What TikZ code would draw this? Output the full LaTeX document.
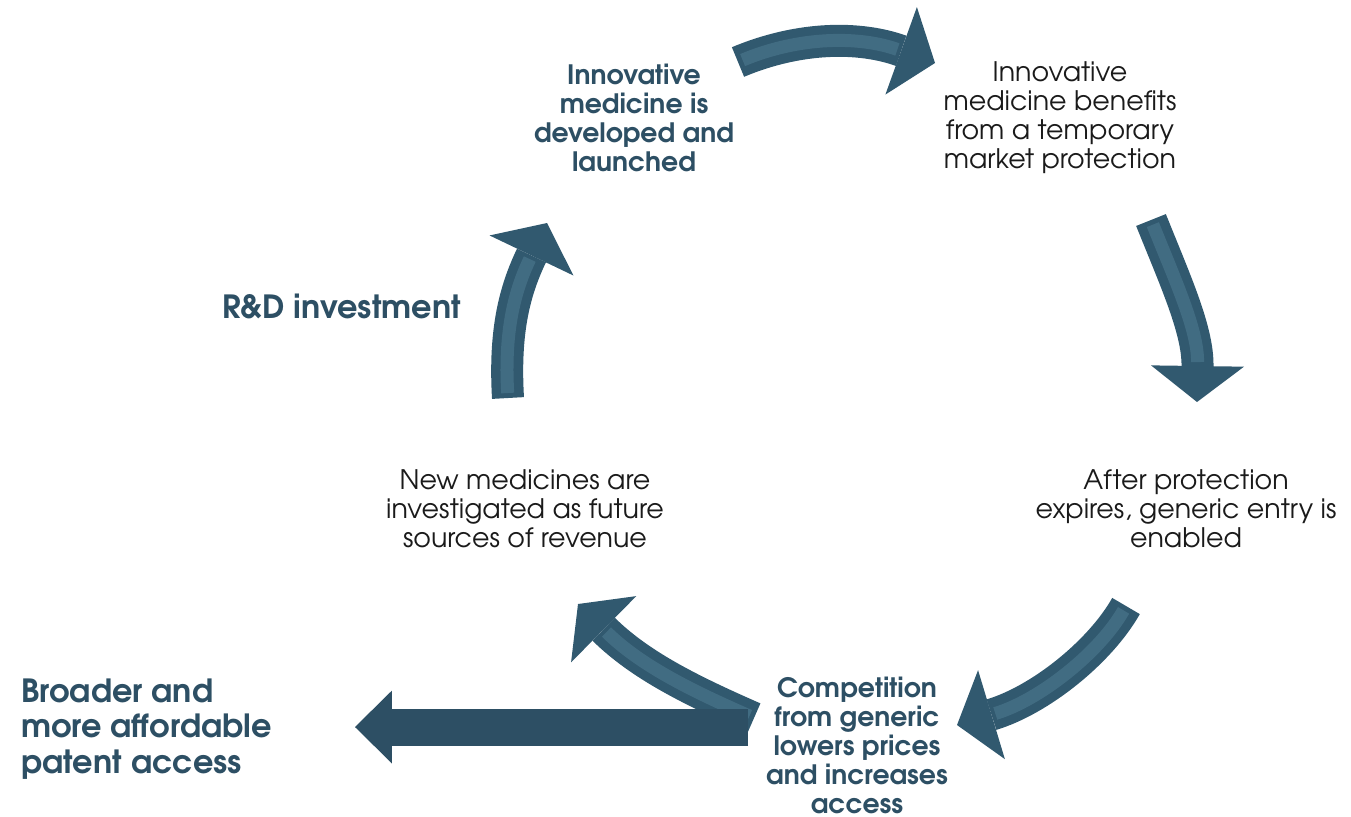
\documentclass[tikz,border=0pt]{standalone}
\usepackage{fontspec}
\setmainfont{texgyreadventor}[Extension=.otf,UprightFont=*-regular,BoldFont=*-bold,ItalicFont=*-italic,BoldItalicFont=*-bolditalic]
\usepackage{xcolor}
\usepackage{tikz}
\usetikzlibrary{arrows.meta,positioning}

\definecolor{cycleblue}{HTML}{31596F}
\definecolor{darkblue}{HTML}{2D4F64}
\definecolor{glint}{HTML}{8FC3DA}
\definecolor{bodytext}{HTML}{1A1A1A}

\begin{document}
\begin{tikzpicture}[x=0.02cm, y=-0.02cm,
  plain/.style={align=center, text=bodytext, font=\fontsize{15.3}{16.5}\selectfont},
  strong/.style={align=center, text=darkblue, font=\fontsize{15.2}{16.5}\selectfont\bfseries},
  big/.style={align=left, inner sep=0pt, text=darkblue, font=\fontsize{18.2}{20}\selectfont\bfseries},
  cyclearrow/.style={line width=0.64cm, draw=cycleblue,
    -{Triangle[width=1.86cm,length=0.72cm,line width=0pt]},
    postaction={draw=glint, line width=0.26cm, opacity=0.18, -, shorten >=0.8cm, shorten <=0.1cm}},
  flatarrow/.style={line width=0.74cm, draw=darkblue,
    -{Triangle[width=1.46cm,length=0.74cm,line width=0pt]}}
]
\useasboundingbox (0,0) rectangle (1351,816);

% stages of the cycle
\node[strong] (launch) at (634,118) {Innovative\\medicine is\\developed and\\launched};
\node[plain] (protect) at (1060,118) {Innovative\\medicine benefits\\from a temporary\\market protection};
\node[plain] (expire) at (1186,509) {After protection\\expires, generic entry is\\enabled};
\node[strong] (compete) at (857,745) {Competition\\from generic\\lowers prices\\and increases\\access};
\node[plain] (revenue) at (525,509) {New medicines are\\investigated as future\\sources of revenue};
\node[big, anchor=west] (rnd) at (222,306) {R\&D investment};
\node[big, anchor=west] (access) at (21,729) {Broader and\\more affordable\\patent access};

% arrow ends
\coordinate (a1s) at (738,62);
\coordinate (a1e) at (935,63);
\coordinate (a2s) at (1151,220);
\coordinate (a2e) at (1197,402);
\coordinate (a3s) at (1126,606);
\coordinate (a3e) at (957,725);
\coordinate (a4s) at (754,718);
\coordinate (a4e) at (578,604);
\coordinate (a5s) at (508,398);
\coordinate (a5e) at (547,223);
\coordinate (a6s) at (748,727);
\coordinate (a6e) at (355,727);

% the cycle
\draw[cyclearrow] (a1s) .. controls (800,36) and (860,36) .. (a1e);
\draw[cyclearrow] (a2s) .. controls (1175,280) and (1198,330) .. (a2e);
\draw[cyclearrow] (a3s) .. controls (1100,652) and (1040,700) .. (a3e);
\draw[cyclearrow] (a4s) .. controls (690,690) and (640,665) .. (a4e);
\draw[cyclearrow] (a5s) .. controls (504,330) and (515,290) .. (a5e);

% way out of the cycle
\draw[flatarrow] (a6s) -- (a6e);
\end{tikzpicture}
\end{document}
